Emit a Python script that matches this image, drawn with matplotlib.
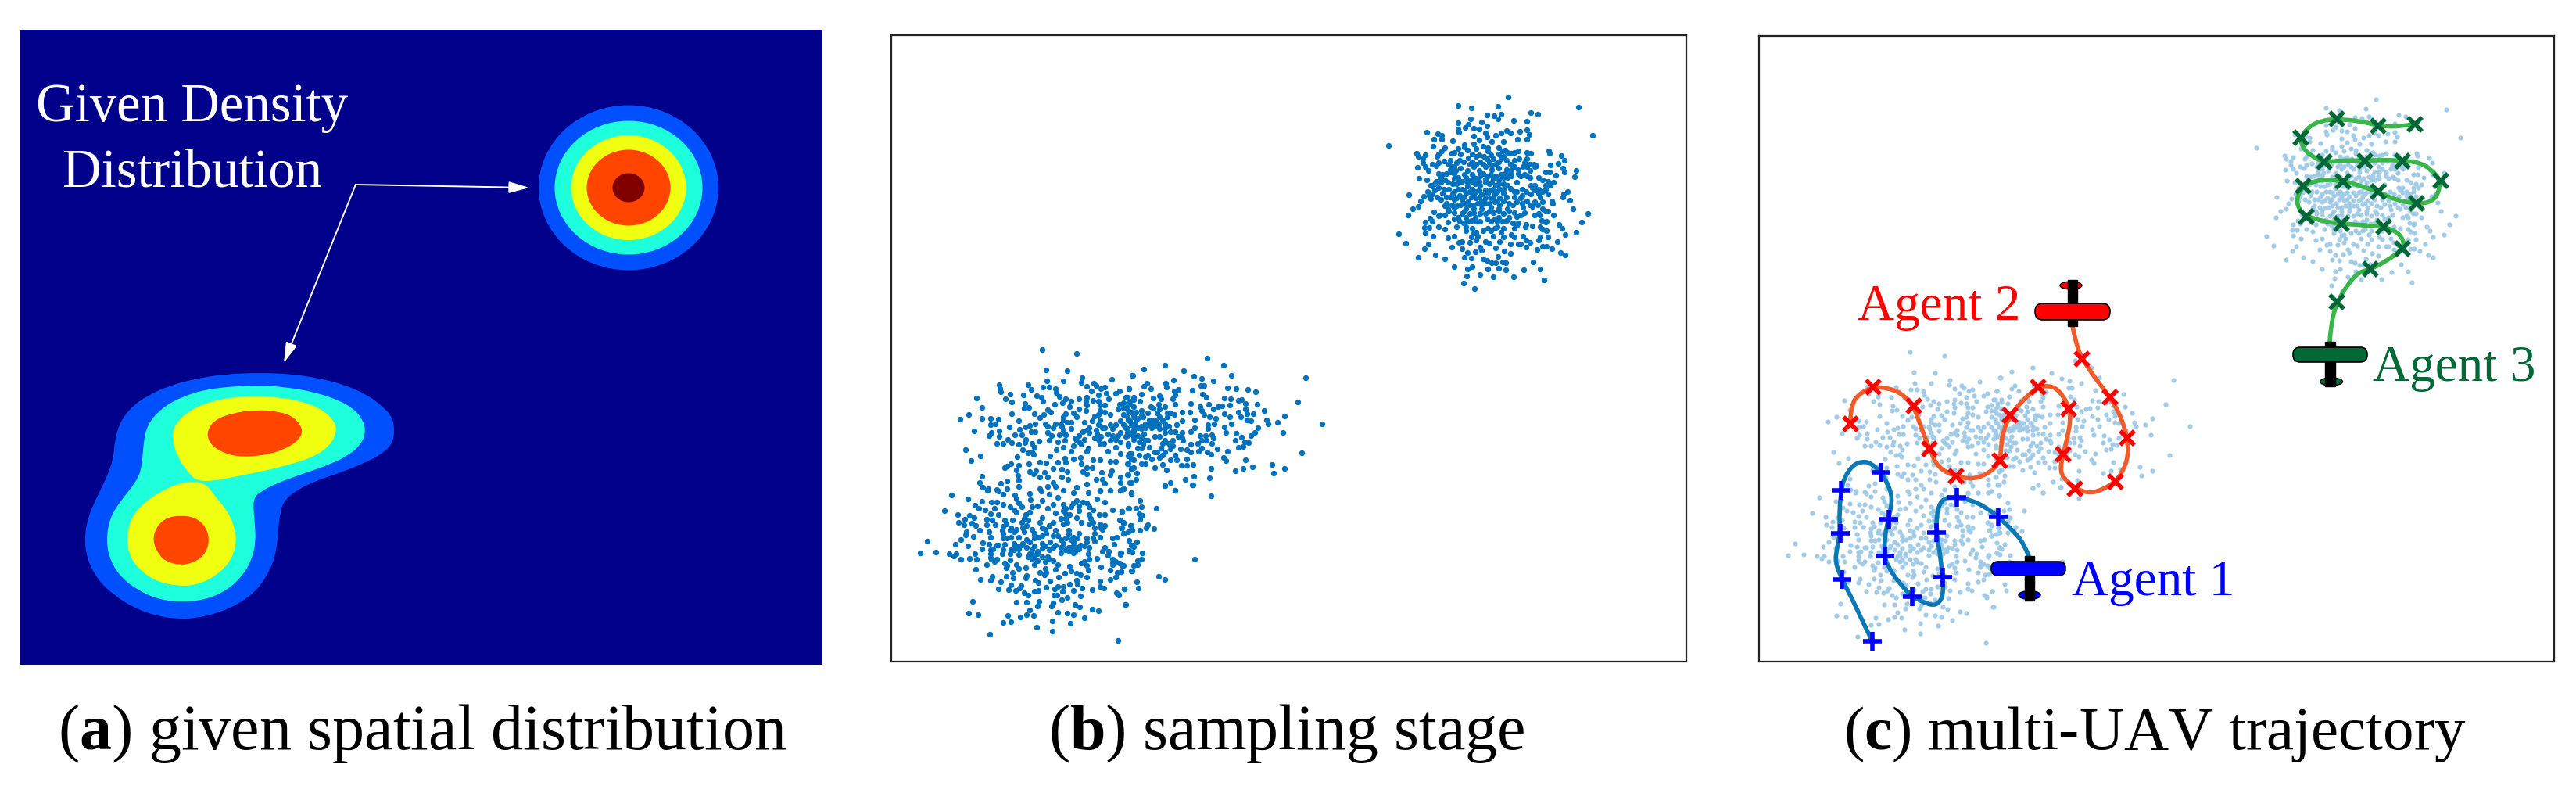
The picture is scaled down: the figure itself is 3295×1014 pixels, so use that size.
import numpy as np
import matplotlib
matplotlib.use("Agg")
import matplotlib.pyplot as plt
from matplotlib.patches import Ellipse, FancyBboxPatch, Rectangle, PathPatch
from matplotlib.path import Path

plt.rcParams['font.family'] = ['Liberation Serif', 'DejaVu Serif']
plt.rcParams['mathtext.fontset'] = 'custom'
plt.rcParams['mathtext.rm'] = 'Liberation Serif'
plt.rcParams['mathtext.bf'] = 'Liberation Serif:bold'

W, H, DPI = 3295, 1014, 100

# ---------- caption and label text ----------
captions = [r"($\mathbf{a}$) given spatial distribution",
            r"($\mathbf{b}$) sampling stage",
            r"($\mathbf{c}$) multi-UAV trajectory"]
agents = ["Agent 1", "Agent 2", "Agent 3"]

# ---------- panel (a): contour outlines, read in a 3x view from (40,440) ----------
blue_outline = [(880,110),(1000,115),(1100,130),(1200,155),(1290,195),(1350,240),(1385,280),(1395,330),(1385,385),(1340,425),(1270,460),(1180,495),(1090,525),(1020,560),(975,595),(955,640),(947,720),(940,800),(915,870),(870,940),(800,995),(720,1030),(640,1050),(570,1055),(490,1045),(400,1015),(320,965),(260,910),(220,840),(203,760),(215,670),(250,590),(290,510),(315,440),(320,370),(340,300),(385,240),(450,195),(530,160),(620,135),(740,115)]
cyan_outline = [(860,157),(980,165),(1090,185),(1180,215),(1240,250),(1275,295),(1283,340),(1265,385),(1220,425),(1150,460),(1050,495),(950,530),(880,565),(850,595),(857,680),(862,760),(845,830),(810,890),(750,945),(670,980),(580,990),(490,980),(410,945),(345,895),(305,835),(287,760),(300,670),(340,605),(405,525),(425,470),(430,380),(445,310),(495,250),(570,205),(680,170)]
yellow_upper = [(860,198),(960,205),(1060,225),(1130,260),(1165,300),(1172,335),(1150,385),(1090,430),(1000,460),(900,485),(800,505),(700,525),(635,525),(600,490),(565,440),(540,370),(545,320),(590,265),(670,225),(760,205)]
yellow_lower = [(620,527),(670,535),(710,590),(760,650),(785,720),(785,780),(760,840),(700,895),(630,925),(560,928),(480,910),(420,870),(380,820),(365,750),(380,670),(430,610),(490,570),(560,535)]
orange_upper = [(860,252),(950,258),(1010,280),(1045,330),(1025,370),(970,405),(890,428),(790,433),(720,410),(680,375),(675,330),(705,290),(770,265)]
orange_lower = [(575,657),(630,665),(670,700),(685,755),(665,810),(620,840),(570,848),(520,835),(490,810),(465,755),(480,700),(520,665)]

ring_widths = [230, 189, 147, 107, 41]
ring_heights = [211, 171, 134, 97, 37]
ring_colors = ['#0050ff', '#1effdc', '#f0ff0f', '#ff4500', '#800000']
ring_center = (804, 240)

# ---------- panel (b): sample points, read in 3x views ----------
top_points = [(508,42),(316,76),(367,85),(467,77),(776,80),(594,101),(622,107),(427,110),(453,113),(480,107),(467,125),(528,133),(578,135),(316,140),(364,127),(406,138),(355,148),(342,160),(425,153),(376,163),(395,165),(314,165),(318,177),(196,178),(238,183),(252,190),(832,189),(252,203),(222,204),(295,210),(218,230),(47,228),(580,168),(553,175),(500,172),(480,180),(517,180),(587,185),(580,203),(543,203),(490,212),(460,190),(443,213),(420,180),(425,195),(374,192),(396,208),(375,222),
(338,225),(315,240),(265,237),(252,250),(350,245),(385,240),(410,232),(430,237),(470,238),(495,245),(520,258),(545,250),(580,256),(595,258),(663,250),(667,258),(157,257),(240,262),(290,258),(300,255),
(163,270),(190,265),(180,280),(235,270),(260,287),(712,267),(724,286),(285,285),(320,285),(355,275),(385,270),(415,270),(440,265),(470,262),(490,270),(530,285),(550,280),(580,280),(605,300),(180,295),(215,300),(240,295),(280,300),(310,295),(370,290),(400,290),(435,295),(470,290),(515,300),(570,295),(698,297),(668,302),
(160,313),(190,310),(200,325),(230,305),(285,320),(300,310),(325,315),(350,325),(375,310),(395,325),(420,310),(445,320),(470,315),(495,335),(520,320),(545,320),(580,310),(615,305),(590,325),(650,330),(665,330),(718,315),(722,330),(769,324),(240,335),(270,335),(300,335),(340,340),(370,340),(410,335),(440,340),(480,340),(520,345),(555,345),(580,345),(690,343),(763,347),
(164,355),(194,360),(245,350),(300,355),(330,365),(360,360),(385,355),(420,358),(450,355),(470,360),(505,352),(540,370),(590,350),(625,350),(640,360),(660,365),(680,370),(250,370),(225,375),(275,370),(310,375),(380,375),(400,380),(435,375),(460,380),(490,375),(595,380),(670,380),
(215,385),(240,390),(280,395),(330,395),(350,385),(370,395),(395,400),(450,395),(475,395),(515,392),(560,395),(600,390),(625,395),(650,395),(198,405),(125,417),(215,415),(255,410),(295,415),(320,420),(345,410),(375,415),(405,415),(430,410),(455,415),(490,410),(530,405),(575,405),(625,410),(660,415),(720,415),(736,406),
(183,422),(210,432),(250,435),(270,425),(300,435),(330,435),(355,440),(385,430),(405,440),(440,430),(475,430),(500,425),(555,430),(595,415),(630,425),(718,425),(745,438),(170,442),(270,450),(325,455),(360,455),(390,450),(420,450),(455,445),(510,450),(540,445),(610,445),(675,440),(678,450),
(162,463),(142,472),(275,470),(300,468),(345,470),(375,470),(405,470),(440,465),(470,470),(505,470),(565,465),(600,462),(620,455),(640,470),(660,480),(755,472),(122,494),(222,482),(280,480),(330,490),(360,490),(420,490),(450,485),(490,490),(530,485),(570,485),(680,495),
(240,497),(265,495),(315,505),(345,505),(380,505),(470,505),(510,505),(540,500),(610,495),(630,495),(813,490),(208,507),(190,522),(215,518),(275,522),(320,520),(350,520),(385,520),(440,520),(465,520),(500,515),(545,525),(635,515),(650,522),(788,521),(703,532),
(185,543),(205,543),(240,540),(265,548),(345,540),(310,540),(370,547),(430,545),(455,545),(490,545),(530,545),(572,540),(600,538),(640,550),(655,555),(713,545),(190,565),(345,555),(385,560),(410,555),(480,560),
(88,568),(218,575),(300,575),(275,582),(365,580),(390,575),(450,575),(490,580),(520,570),(530,580),(565,575),(630,578),(660,580),(725,570),(768,562),(575,590),(625,590),(385,590),(318,600),(330,597),(360,600),(420,597),(475,597),(590,600),(697,596),
(115,603),(201,606),(290,618),(435,603),(400,618),(460,622),(515,607),(545,605),(555,605),(575,618),(640,615),(655,615),(675,623),(187,625),(330,625),(405,630),(617,628),(350,638),(380,636),(493,633),(517,643),(708,640),(725,647),
(163,658),(227,648),(265,662),(340,658),(365,660),(468,655),(410,662),(425,670),(445,677),(460,678),(485,676),(498,678),(602,674),(299,692),(368,694),(350,702),(428,703),(471,700),(498,705),(566,706),(631,703),(400,722),(347,728),(449,732),(529,731),(646,745),(337,756),(377,776)]

top_core_points = [(290,310),(305,325),(335,290),(360,300),(385,300),(410,300),(445,305),(460,300),(500,320),(530,310),(565,310),(590,300),(610,310),
(255,340),(285,330),(315,350),(345,350),(375,350),(400,345),(430,345),(460,345),(490,350),(515,335),(545,335),(570,340),
(210,380),(230,365),(265,360),(295,375),(320,370),(350,370),(370,365),(395,365),(420,370),(445,370),(470,375),(505,380),(610,380),(650,380),
(225,400),(260,395),(300,405),(315,395),(340,400),(360,405),(385,405),(420,400),(440,400),(465,405),(490,395),(540,405),(610,400),(640,405),
(205,420),(235,425),(285,425),(310,430),(335,425),(365,425),(395,425),(420,430),(450,425),(465,440),(490,440),(530,425),(560,420),(580,440),
(265,460),(290,455),(310,460),(340,450),(375,455),(405,455),(435,450),(475,455),(525,455),(560,450),(590,455),(640,445),
(245,495),(300,485),(340,480),(375,485),(400,490),(435,480),(470,480),(510,480),(555,495),(625,490),(650,480),
(300,510),(335,525),(365,515),(400,520),(425,510),(455,510),(485,520),(525,525),
(375,565),(440,555),(465,540),(540,535),(575,530),(630,540),(655,520),
(395,265),(425,280),(450,280),(480,280),(500,285),(325,260),(340,235),(370,260),(505,255),(530,255),(430,250),(485,250)]

upper_left_points = [(519,50),(652,65),(535,128),(614,133),(672,158),(786,165),(865,150),(537,170),(599,172),(670,178),(355,185),(357,200),(360,213),(464,185),(476,205),(521,195),(547,195),(570,200),(573,215),(690,193),(718,180),(726,190),(709,210),(745,200),(758,195),(852,200),(815,210),(395,222),(448,225),(497,227),(515,235),(523,248),(585,230),(268,238),(378,241),(403,253),(610,240),(630,250),(660,240),(690,235),(688,250),(735,225),(765,220),(800,218),(775,240),(840,235),(870,235),(454,257),(568,260),(597,255),(625,270),(660,280),(450,275),(469,274),(287,272),(735,250),(760,265),(830,255),(855,260),(690,265),(715,245),
(540,283),(553,292),(488,298),(525,300),(402,298),(237,301),(610,298),(640,295),(687,285),(740,285),(810,280),(850,285),(510,312),(288,315),(205,319),(322,315),(350,318),(428,323),(600,320),(650,310),(720,305),(780,300),(830,300),(870,310),(340,335),(320,338),(470,342),(493,337),(455,348),(530,335),(540,345),(570,335),(590,340),(630,330),(680,330),(710,325),(740,320),(820,325),(860,335),(393,348),(432,357),
(355,362),(258,362),(478,365),(493,367),(540,368),(560,350),(600,360),(630,355),(690,360),(750,350),(790,355),(840,350),(325,368),(316,380),(415,378),(440,378),(555,380),(585,378),(610,378),(660,380),(700,370),(730,375),(770,375),(810,380),(860,375),(355,385),(388,397),(402,408),(370,410),(345,412),(430,414),(455,395),(453,408),(508,401),(545,400),(580,405),(605,400),(650,400),(680,395),(735,395),(780,400),(820,405),(850,410),(480,410),
(445,435),(490,425),(225,436),(283,460),(245,478),(572,435),(600,425),(640,420),(670,415),(695,430),(740,415),(800,425),(630,440),(690,442),(770,440),(820,450),(860,450),(480,443),(465,448),(487,453),(550,460),(423,461),(605,468),(665,465),(640,472),(715,475),(740,475),(780,480),(800,480),(850,460),(870,475),(580,482),(610,482),(467,488),(509,484),(533,487),(400,490),(385,497),(374,503),(428,494),(670,490),(690,505),(710,503),(850,490),
(420,513),(560,508),(595,510),(615,518),(860,508),(288,537),(470,520),(485,527),(495,515),(527,522),(675,520),(690,528),(747,522),(785,515),(510,540),(540,540),(595,540),(425,535),(280,560),(617,548),(726,550),(750,548),(780,530),(820,540),(850,530),(360,565),(385,555),(428,552),(560,560),(510,585),(540,575),(690,568),(760,565),(820,560),(860,560),(290,580),(312,585),(346,588),(385,585),(430,575),(570,575),(600,590),(650,580),(740,590),(780,590),(830,585),
(600,310),(615,330),(595,345),(605,375),(645,390),(660,405),(675,365),(700,350),(725,360),(735,340),(760,350),(745,385),(720,390),(755,410),(790,380),(820,370),(840,385),(850,320),(830,275),(815,260),(800,340),(780,340),(740,265),(760,290),(735,300),(830,340),(870,345),(870,360),(845,370),(800,395)]

upper_right_points = [(311,85),(375,112),(150,112),(69,125),(223,133),(28,150),(404,149),(262,154),(290,162),(689,160),(335,170),(183,167),(80,180),(153,180),(287,190),(300,190),(389,197),(423,200),(469,204),(497,212),(155,195),(70,192),(95,200),(12,202),(200,205),(185,210),(255,208),(293,222),(60,222),(130,228),(190,225),(310,235),(377,238),(403,241),(432,246),(445,243),(105,237),(180,240),(5,235),(30,243),(55,250),(135,240),(660,253),(250,258),(460,258),(503,262),(317,260),(399,265),(190,260),(125,262),(150,270),(355,270),(335,278),(370,268),(285,270),(95,270),(30,270),(60,285),(5,270),(458,278),(531,286),(432,290),(290,285),(245,290),(215,290),(160,295),(120,295),(85,295),(378,297),(490,297),(465,298),(610,306),(440,308),(400,310),(300,300),(185,300),(30,300),(5,310),(65,310),
(320,310),(345,315),(465,320),(480,325),(541,320),(581,331),(405,335),(545,335),(752,337),(265,320),(215,325),(140,325),(100,320),(40,320),(15,325),(315,340),(340,335),(195,338),(125,340),(75,335),(379,347),(506,351),(265,350),(315,355),(150,350),(100,350),(5,355),(45,350),(385,370),(423,372),(495,370),(603,368),(250,365),(190,365),(215,370),(150,370),(70,375),(30,365),(5,380),(30,385),(285,380),(305,380),(330,378),(480,382),(445,388),(215,390),(110,385),(130,385),(335,390),(60,390),(10,420),
(420,400),(455,405),(470,408),(290,400),(310,398),(220,398),(180,400),(150,400),(50,405),(85,400),(275,412),(330,410),(248,415),(65,415),(180,420),(90,425),(432,427),(450,422),(352,433),(290,430),(170,432),(210,432),(235,435),(135,430),(60,430),(389,442),(675,446),(280,440),(312,443),(328,453),(250,445),(120,445),(150,445),(85,455),(15,450),(50,455),(190,457),(375,465),(384,476),(459,475),(235,470),(170,475),(195,473),(130,465),(100,470),(75,462),(20,470),(560,493),(487,500),(449,506),(328,506),(609,507),(258,491),(235,496),(213,495),(140,493),(60,490),(75,490),(110,503),(5,490),(30,505),(20,510),(157,513),(420,516),(567,526),(42,526),(260,538),(320,543),(228,549),(172,561),(150,573),(257,570),(38,550),(15,560),(5,530),(190,591),(20,600),
(15,250),(20,290),(40,290),(60,300),(90,320),(115,325),(130,310),(150,335),(165,345),(75,350),(60,355),(20,340),(35,340),(10,365),(25,375),(45,380),(60,345),(100,335),(115,345),(145,325),(160,310),(170,295),(130,280),(105,275),(45,315),(85,340),(130,355),(170,365),(140,410),(165,410),(200,385),(45,430),(110,445),(140,455),(30,395),(75,400)]

lower_points = [(172,25),(234,38),(145,85),(288,47),(262,63),(275,75),(300,80),(320,95),(335,75),(325,50),(345,50),(310,5),(350,10),(370,20),(415,25),(420,40),(470,18),(475,42),(515,10),(545,20),(520,45),(578,32),(640,15),(650,45),(695,15),(740,10),(760,50),(730,40),(780,5),(820,5),(860,17),(370,60),(395,70),(440,70),(480,70),(540,75),(600,60),(630,70),(675,50),(700,70),(790,80),(851,74),(825,87),
(196,100),(240,102),(258,110),(350,100),(420,90),(470,90),(570,92),(610,95),(660,85),(715,80),(738,98),(760,100),(222,118),(197,128),(218,138),(248,132),(265,142),(307,117),(327,120),(305,137),(340,137),(375,120),(405,120),(450,115),(520,110),(610,115),(650,110),(705,115),(816,120),(830,130),(860,140),(370,145),(400,150),(460,140),(510,130),(560,130),(600,135),(670,130),(700,135),(740,135),(825,150),
(280,160),(229,165),(225,178),(255,182),(315,165),(320,185),(370,170),(410,165),(450,165),(490,170),(530,155),(570,160),(620,160),(660,170),(720,170),(750,155),(860,160),(830,172),(385,190),(430,185),(490,190),(520,180),(580,180),(610,190),(640,185),(740,185),(790,190),(805,185),(77,202),(208,195),(186,213),(235,220),(292,208),(315,212),(345,215),(375,212),(410,210),(440,215),(470,205),(520,210),(550,205),(600,210),(640,205),(690,205),(720,200),(795,212),(860,215),
(288,232),(320,235),(368,235),(400,235),(430,230),(480,235),(520,228),(560,225),(620,225),(660,230),(700,225),(760,225),(852,237),(50,246),(110,243),(161,248),(188,248),(180,258),(260,250),(320,250),(365,250),(430,252),(470,250),(500,250),(540,260),(590,245),(640,245),(695,250),(750,240),(775,240),(820,245),(207,271),(240,268),(268,270),(325,270),(345,270),(395,272),(480,270),(520,262),(560,275),(700,270),(730,268),(790,270),
(307,290),(375,285),(420,290),(490,290),(580,290),(625,297),(670,285),(790,285),(825,295),(264,310),(380,302),(405,322),(430,305),(455,302),(530,305),(570,310),(630,315),(695,312),(745,300),(780,312),(808,320),(823,317),(862,315),(510,322),(535,320),(607,325),(650,325),(665,330),(326,335),(380,335),(460,332),(528,330),(583,340),(690,340),(800,340),(283,348),(320,352),(360,358),(408,342),(455,343),(491,350),(549,353),(650,350),(740,353),(780,348),
(400,370),(437,373),(505,360),(625,365),(655,365),(580,375),(600,375),(535,377),(671,380),(742,375),(352,383),(390,388),(418,390),(432,382),(568,385),(598,392),(490,392),(505,390),(640,390),(711,388),(757,382),(833,384),(450,400),(465,407),(565,407),(575,408),(665,410),(803,398),(812,407),(615,418),(595,427),(251,431),(420,435),(458,434),(507,432),(560,437),(645,444),(838,445),(556,450),(500,450),(662,453),(712,462),(735,467),(472,466),(236,478),(272,484),(388,487),(458,484),(487,487),(436,492),(580,475),(615,477),(640,483),(681,495),(368,513),(399,509),(559,508),(628,517),(498,530),(557,545),(317,558),(811,582),
(380,135),(395,160),(365,160),(440,130),(465,120),(480,155),(520,150),(545,140),(590,115),(615,130),(625,100),(600,85),(420,155),(445,150),
(370,190),(400,185),(415,215),(460,195),(490,175),(505,185),(535,170),(560,180),(590,195),(620,175),(630,195),(655,190),(680,220),(690,190),(715,190),
(430,220),(445,210),(460,225),(490,220),(500,240),(530,220),(545,235),(570,215),(590,225),(610,235),(630,225),(645,240),(665,215),(480,250),(465,260),(490,265),(500,275),(640,220),(625,240),(655,225),
(330,230),(350,215),(395,250),(410,235),(320,265),(335,280),(385,295),(530,280),(545,270),(680,280),(690,295),(770,255),(790,290),(800,280),(500,65),(560,60),(610,75),(640,55),(660,65),(690,55),(430,55),(410,80),(455,100),(700,100),(715,130),(745,150),(760,140),(720,150)]

lower_right_points = [(51,32),(84,60),(89,84),(40,90),(69,90),(147,89),(15,101),(80,112),(92,118),(85,133),(8,135),(22,148),(47,155),(12,165),(113,153),(107,165),(138,167),(53,173),(38,180),(84,175),(20,187),(42,212),(72,220),(55,232),(60,238),(42,253),(55,258),(12,260),(92,262),(8,268),(90,285),(75,290),(293,285),(5,300),(20,310),(75,307),(60,308),(12,332),(53,330),(157,350),(181,364),(72,373),(23,399),(77,396),(3,420),(29,460),(180,3),(220,22),(285,0),(20,15),(8,20),(358,42)]

# ---------- panel (c): trajectories, read in zoomed views ----------
blue_path = [(885,1075),(870,1030),(840,990),(798,943),(760,910),(720,887),(678,878),(640,880),(622,920),(620,995),(630,1060),(638,1145),(640,1205),(625,1235),(600,1238),(552,1210),(510,1160),(480,1105),(472,1075),(472,1010),(483,950),(495,880),(480,830),(461,795),(435,765),(410,757),(380,770),(355,815),(348,855),(342,920),(344,998),(335,1050),(330,1095),(350,1152),(380,1220),(410,1295),(437,1360)]
blue_stops = [(798,943),(678,878),(620,995),(638,1145),(552,1210),(472,1075),(483,950),(461,795),(348,855),(344,998),(350,1152),(437,1360)]
orange_path = [(1010,305),(1020,365),(1038,415),(1075,480),(1118,543),(1150,610),(1167,680),(1170,740),(1155,790),(1133,825),(1100,850),(1060,865),(1017,848),(985,815),(975,785),(983,735),(995,680),(1005,620),(1000,582),(985,540),(955,505),(912,508),(870,550),(832,603),(810,660),(805,720),(802,755),(780,790),(730,818),(676,808),(625,780),(600,715),(575,640),(555,572),(520,530),(480,512),(440,510),(400,530),(375,570),(373,632)]
red_stops = [(1037,415),(1118,543),(1167,680),(1133,825),(1017,848),(983,735),(1000,582),(912,510),(832,603),(802,755),(676,808),(600,715),(555,572),(440,510),(373,632)]
green_path = [(540,1010),(545,940),(568,858),(610,790),(650,745),(697,733),(760,700),(820,655),(825,625),(800,590),(748,570),(680,565),(585,558),(520,550),(450,530),(420,500),(412,460),(438,413),(480,395),(530,388),(590,395),(650,410),(725,435),(800,470),(872,480),(920,478),(955,450),(965,392),(930,350),(880,322),(820,317),(750,313),(675,317),(600,315),(520,322),(470,300),(435,265),(428,228),(460,185),(510,162),(568,157),(650,163),(727,182),(800,187),(867,176)]
green_stops = [(568,857),(697,733),(820,655),(748,570),(585,558),(450,530),(438,413),(590,395),(725,435),(872,480),(965,392),(820,317),(675,317),(520,322),(428,228),(568,157),(727,182),(867,176)]


def view(points, ox, oy, sx=3.0, sy=3.0):
    a = np.asarray(points, float)
    return np.column_stack([ox + a[:, 0] / sx, oy + a[:, 1] / sy])


fig = plt.figure(figsize=(W / DPI, H / DPI), dpi=DPI, facecolor='white')


def panel(l, t, r, b):
    ax = fig.add_axes([l / W, 1 - b / H, (r - l) / W, (b - t) / H])
    ax.set_xlim(l, r)
    ax.set_ylim(b, t)
    ax.set_xticks([])
    ax.set_yticks([])
    return ax


def caption(ax, x, y, s, size=59):
    ax.text(x, y, s, fontsize=size, ha='center', va='baseline', color='black', clip_on=False)


def smooth_closed(ax, pts, color):
    n = len(pts)
    start = (pts[-1] + pts[0]) / 2
    v = [tuple(start)]
    c = [Path.MOVETO]
    for i in range(n):
        v += [tuple(pts[i]), tuple((pts[i] + pts[(i + 1) % n]) / 2)]
        c += [Path.CURVE3, Path.CURVE3]
    ax.add_patch(PathPatch(Path(v, c), fc=color, ec='none'))


# ---------- (a) ----------
axa = panel(26, 38, 1052, 850)
axa.set_facecolor('#00008b')
for sp in axa.spines.values():
    sp.set_visible(False)
for w, h, c in zip(ring_widths, ring_heights, ring_colors):
    axa.add_patch(Ellipse(ring_center, w, h, fc=c, ec='none'))
for pts, c in [(blue_outline, ring_colors[0]), (cyan_outline, ring_colors[1]),
               (yellow_upper, ring_colors[2]), (yellow_lower, ring_colors[2]),
               (orange_upper, ring_colors[3]), (orange_lower, ring_colors[3])]:
    smooth_closed(axa, view(pts, 40, 440), c)
axa.text(246, 155, "Given Density", fontsize=49.5, color='white', ha='center', va='baseline')
axa.text(246, 239, "Distribution", fontsize=49.5, color='white', ha='center', va='baseline')
arrow_root = (455, 236)
for tip in [(677, 240), (363, 464)]:
    axa.annotate("", xy=tip, xytext=arrow_root,
                 arrowprops=dict(arrowstyle='-|>,head_length=0.53,head_width=0.15', color='white',
                                 lw=1.4, mutation_scale=30, shrinkA=0, shrinkB=0))
caption(axa, 540, 958, captions[0])

# ---------- sample cloud in reference pixels ----------
cloud = np.vstack([view(top_points, 1760, 110), view(top_core_points, 1760, 110),
                   view(upper_left_points, 1160, 430), view(upper_right_points, 1440, 430),
                   view(lower_points, 1160, 625), view(lower_right_points, 1430, 620)])

# ---------- (b) ----------
axb = panel(1140, 45, 2157, 846)
for sp in axb.spines.values():
    sp.set_linewidth(1.6)
    sp.set_color('#222222')
axb.scatter(cloud[:, 0], cloud[:, 1], s=28, c='#0072bd', linewidths=0)
caption(axb, 1646, 958, captions[1])

# ---------- (c) ----------
axc = panel(2250, 46, 3267, 846)
for sp in axc.spines.values():
    sp.set_linewidth(1.6)
    sp.set_color('#222222')
axc.scatter(cloud[:, 0] + 1110, cloud[:, 1] + 3, s=20, c='#a2cbe8', linewidths=0, zorder=1)


def smooth(ax, pts, color):
    v = [tuple(pts[0])]
    c = [Path.MOVETO]
    for i in range(1, len(pts) - 1):
        mid = (pts[i] + pts[i + 1]) / 2 if i < len(pts) - 2 else pts[i + 1]
        v += [tuple(pts[i]), tuple(mid)]
        c += [Path.CURVE3, Path.CURVE3]
    ax.add_patch(PathPatch(Path(v, c), fc='none', ec=color, lw=4, capstyle='round', zorder=3))


smooth(axc, view(blue_path, 2200, 300, 2.24, 2.613), '#0a78b4')
smooth(axc, view(orange_path, 2200, 300, 2.24, 2.613), '#f15a29')
smooth(axc, view(green_path, 2800, 100), '#39b54a')

b = view(blue_stops, 2200, 300, 2.24, 2.613)
axc.plot(b[:, 0], b[:, 1], ls='none', marker='+', ms=17, mew=4, color='#0000ff', zorder=4)
r = view(red_stops, 2200, 300, 2.24, 2.613)
axc.plot(r[:, 0], r[:, 1], ls='none', marker='x', ms=13, mew=4, color='#ff0000', zorder=4)
g = view(green_stops, 2800, 100)
axc.plot(g[:, 0], g[:, 1], ls='none', marker='x', ms=13, mew=4, color='#006837', zorder=4)


def plane(ax, wing, body, tail, color):
    x0, y0, x1, y1 = wing
    bx0, by0, bx1, by1 = body
    ax.add_patch(Ellipse(tail[:2], tail[2], tail[3], fc=color, ec='black', lw=1, zorder=5))
    ax.add_patch(Rectangle((bx0, by0), bx1 - bx0, by1 - by0, fc='black', ec='black', zorder=6))
    rad = (y1 - y0) / 2 - 0.5
    ax.add_patch(FancyBboxPatch((x0 + rad, y0 + rad), x1 - x0 - 2 * rad, y1 - y0 - 2 * rad,
                                boxstyle=f"round,pad={rad},rounding_size={rad}",
                                fc=color, ec='black', lw=1.2, zorder=7))


plane(axc, (2547, 718, 2642, 736), (2590, 711, 2602, 768), (2596, 761, 28, 11), '#0000ff')
plane(axc, (2603, 388, 2699, 409), (2645, 358, 2657, 417), (2649, 365, 28, 10), '#ff0000')
plane(axc, (2933, 444, 3028, 463), (2974, 437, 2987, 494), (2982, 488, 29, 10), '#006837')

for s, x, y, c in zip(agents, [2650, 2376, 3035], [761, 409, 487], ['#0000ff', '#ff0000', '#006837']):
    axc.text(x, y, s, fontsize=47, color=c, ha='left', va='baseline', zorder=8)
caption(axc, 2757, 958, captions[2], size=57)

fig.savefig('out.png', dpi=DPI, facecolor='white')
